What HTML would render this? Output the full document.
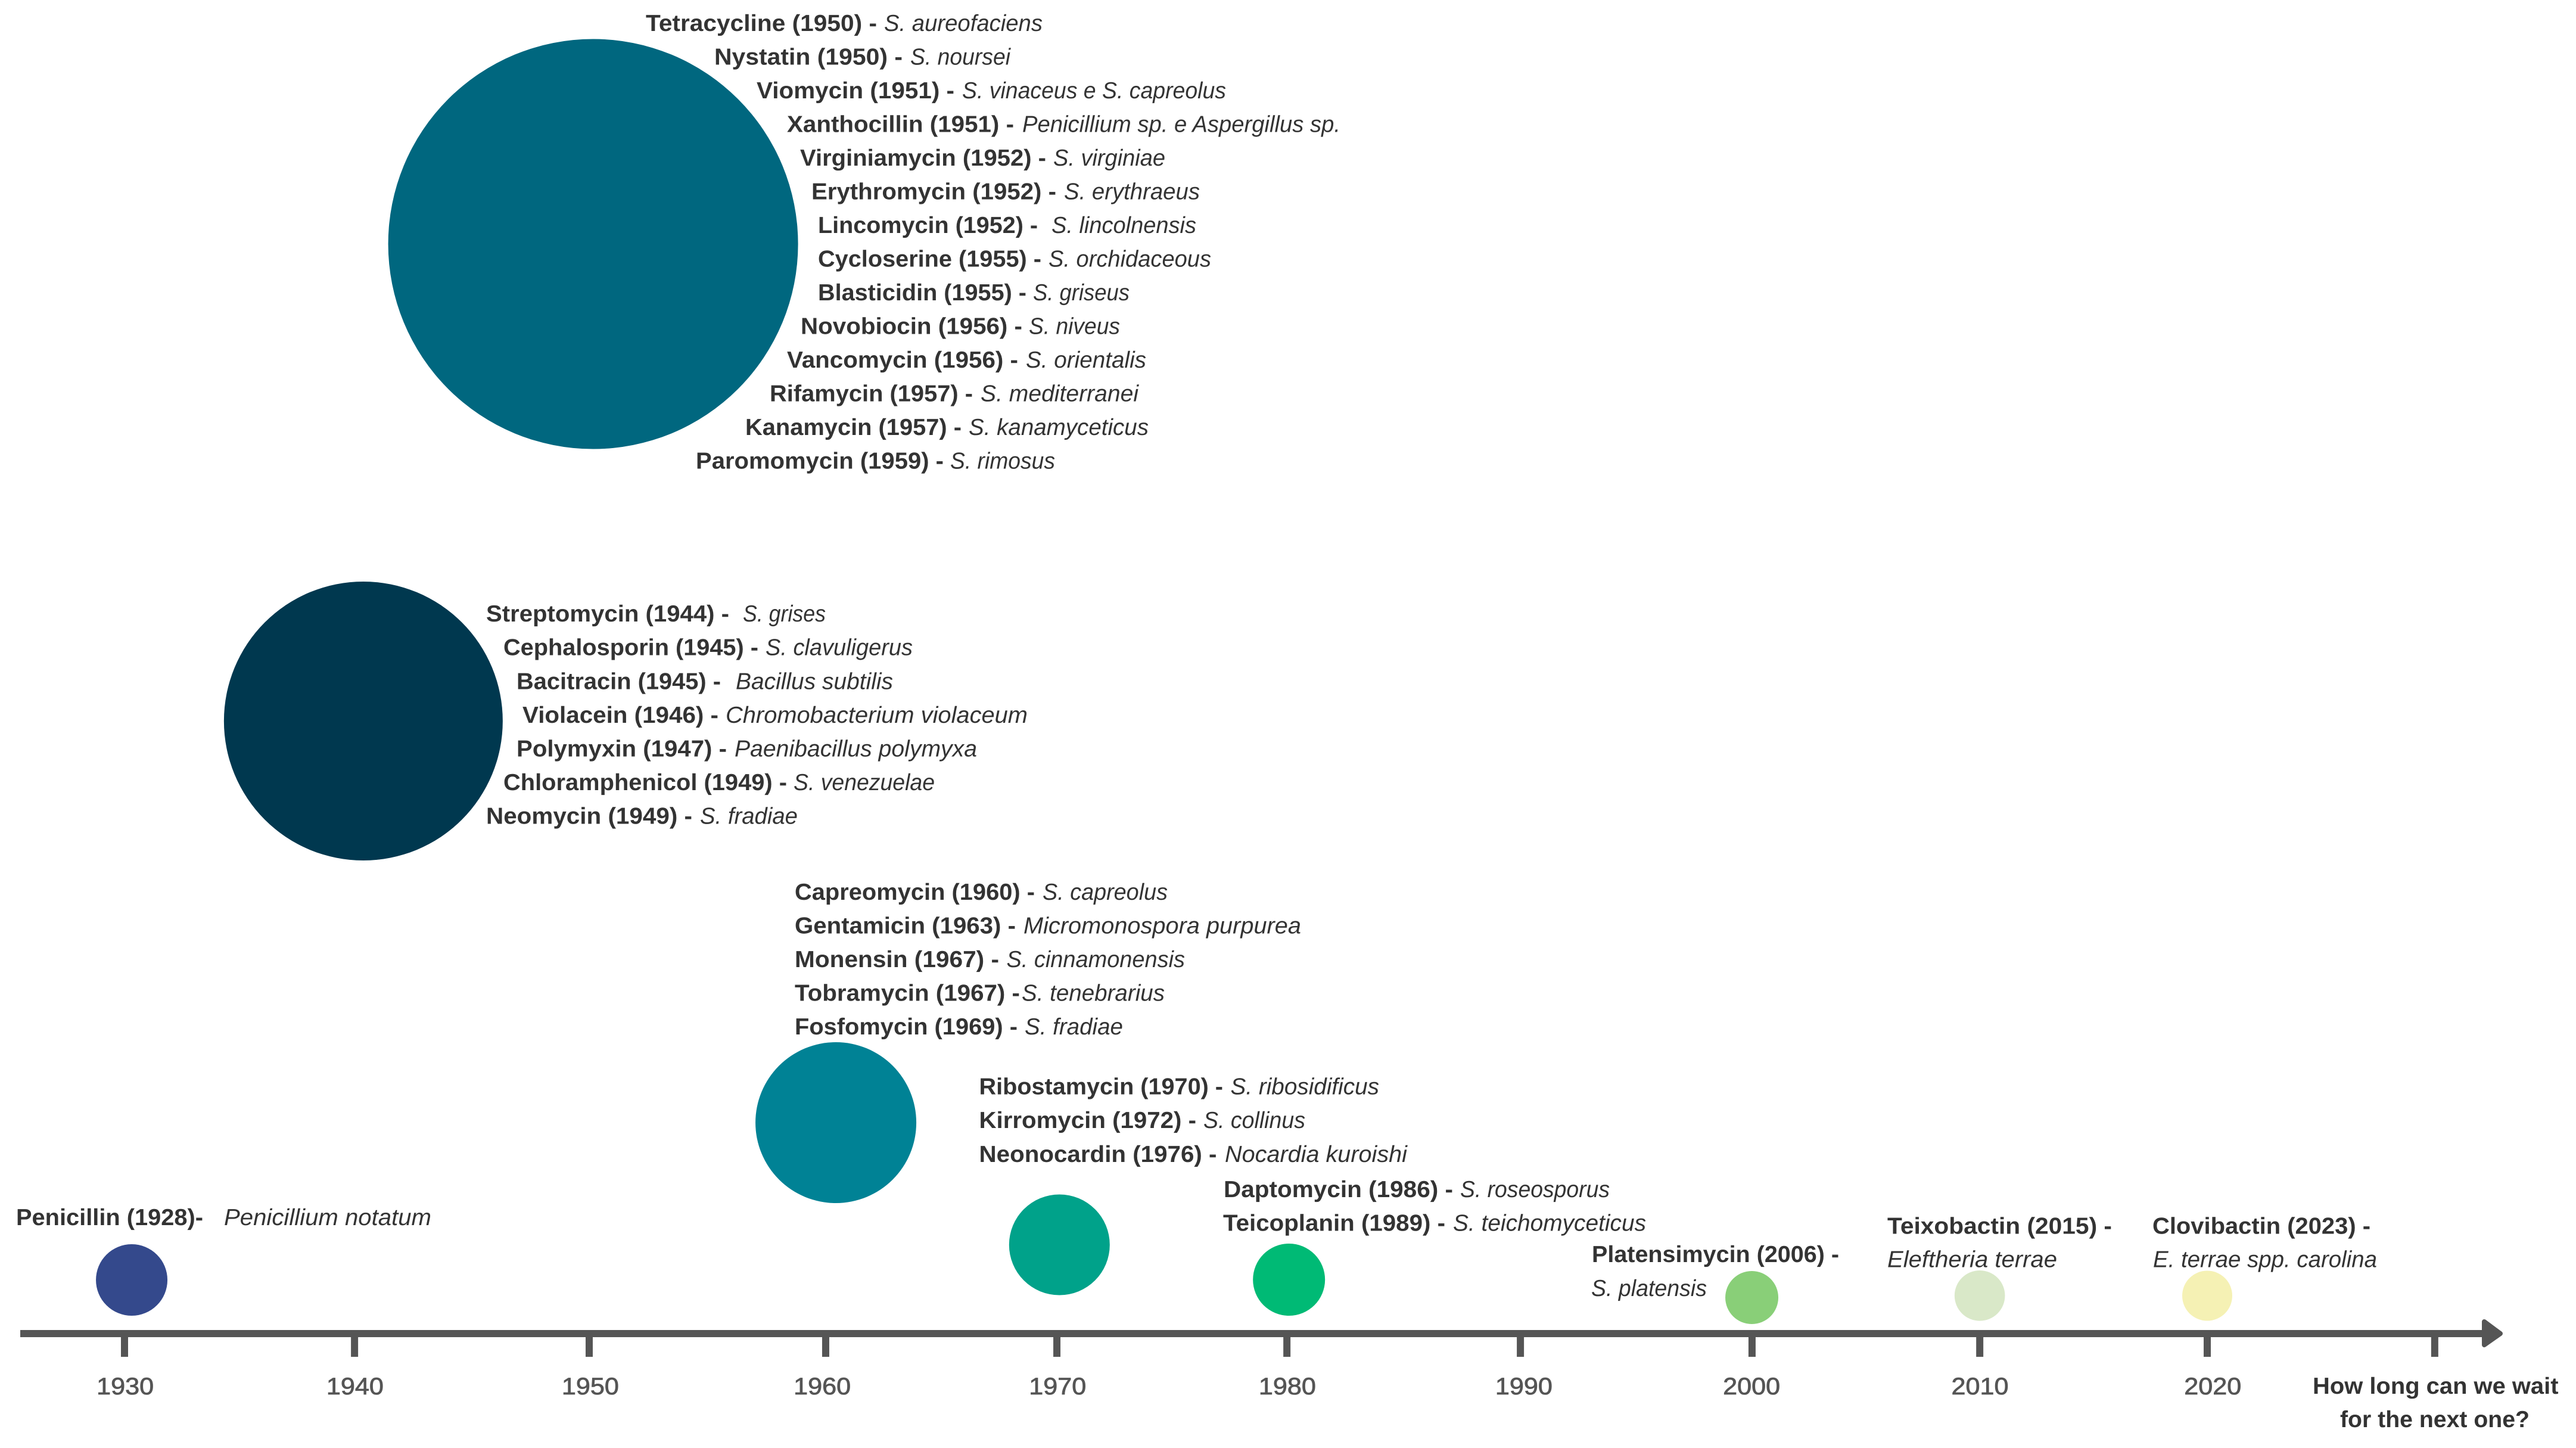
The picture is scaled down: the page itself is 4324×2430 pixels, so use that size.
<!DOCTYPE html>
<html lang="en">
<head>
<meta charset="utf-8">
<title>Antibiotic discovery timeline</title>
<style>
  html, body { margin: 0; padding: 0; background: #ffffff; }
  svg { display: block; }
  text { font-family: "Liberation Sans", sans-serif; font-size: 39px; fill: #333333; text-rendering: geometricPrecision; }
  .b { font-weight: 700; }
  .i { font-style: italic; font-weight: 400; }
  .tick-label { fill: #555555; stroke: #555555; stroke-width: 0.8px; font-size: 40px; text-anchor: middle; }
</style>
</head>
<body>
<svg id="chart" xmlns="http://www.w3.org/2000/svg" width="4324" height="2430" viewBox="0 0 4324 2430">
  <rect x="0" y="0" width="4324" height="2430" fill="#ffffff"/>
  <g id="bubbles"></g>

  <rect x="34" y="2232" width="4136" height="12" fill="#555555"/>
  <polygon points="4170,2218 4197,2238 4170,2257" fill="#555555" stroke="#555555" stroke-width="8" stroke-linejoin="round"/>
  <g id="ticks"></g>
  <g id="tick-labels"></g>

  <g>
    <g><text class="b" x="1084" y="52" textLength="388" lengthAdjust="spacingAndGlyphs">Tetracycline (1950) -</text><text class="i" x="1484" y="52" textLength="266" lengthAdjust="spacingAndGlyphs">S. aureofaciens</text></g>
    <g><text class="b" x="1199" y="108.5" textLength="316" lengthAdjust="spacingAndGlyphs">Nystatin (1950) -</text><text class="i" x="1528" y="108.5" textLength="168" lengthAdjust="spacingAndGlyphs">S. noursei</text></g>
    <g><text class="b" x="1270" y="165" textLength="332" lengthAdjust="spacingAndGlyphs">Viomycin (1951) -</text><text class="i" x="1615" y="165" textLength="443" lengthAdjust="spacingAndGlyphs">S. vinaceus e S. capreolus</text></g>
    <g><text class="b" x="1321" y="221.5" textLength="381" lengthAdjust="spacingAndGlyphs">Xanthocillin (1951) -</text><text class="i" x="1716" y="221.5" textLength="534" lengthAdjust="spacingAndGlyphs">Penicillium sp. e Aspergillus sp.</text></g>
    <g><text class="b" x="1343" y="278" textLength="413" lengthAdjust="spacingAndGlyphs">Virginiamycin (1952) -</text><text class="i" x="1768" y="278" textLength="188" lengthAdjust="spacingAndGlyphs">S. virginiae</text></g>
    <g><text class="b" x="1362" y="334.5" textLength="411" lengthAdjust="spacingAndGlyphs">Erythromycin (1952) -</text><text class="i" x="1786" y="334.5" textLength="228" lengthAdjust="spacingAndGlyphs">S. erythraeus</text></g>
    <g><text class="b" x="1373" y="391" textLength="369" lengthAdjust="spacingAndGlyphs">Lincomycin (1952) -</text><text class="i" x="1765" y="391" textLength="243" lengthAdjust="spacingAndGlyphs">S. lincolnensis</text></g>
    <g><text class="b" x="1373" y="447.5" textLength="375" lengthAdjust="spacingAndGlyphs">Cycloserine (1955) -</text><text class="i" x="1760" y="447.5" textLength="273" lengthAdjust="spacingAndGlyphs">S. orchidaceous</text></g>
    <g><text class="b" x="1373" y="504" textLength="350" lengthAdjust="spacingAndGlyphs">Blasticidin (1955) -</text><text class="i" x="1734" y="504" textLength="162" lengthAdjust="spacingAndGlyphs">S. griseus</text></g>
    <g><text class="b" x="1344" y="560.5" textLength="372" lengthAdjust="spacingAndGlyphs">Novobiocin (1956) -</text><text class="i" x="1727" y="560.5" textLength="153" lengthAdjust="spacingAndGlyphs">S. niveus</text></g>
    <g><text class="b" x="1321" y="617" textLength="388" lengthAdjust="spacingAndGlyphs">Vancomycin (1956) -</text><text class="i" x="1722" y="617" textLength="202" lengthAdjust="spacingAndGlyphs">S. orientalis</text></g>
    <g><text class="b" x="1292" y="673.5" textLength="341" lengthAdjust="spacingAndGlyphs">Rifamycin (1957) -</text><text class="i" x="1646" y="673.5" textLength="265" lengthAdjust="spacingAndGlyphs">S. mediterranei</text></g>
    <g><text class="b" x="1251" y="730" textLength="363" lengthAdjust="spacingAndGlyphs">Kanamycin (1957) -</text><text class="i" x="1626" y="730" textLength="302" lengthAdjust="spacingAndGlyphs">S. kanamyceticus</text></g>
    <g><text class="b" x="1168" y="786.5" textLength="416" lengthAdjust="spacingAndGlyphs">Paromomycin (1959) -</text><text class="i" x="1595" y="786.5" textLength="176" lengthAdjust="spacingAndGlyphs">S. rimosus</text></g>
  </g>

  <g>
    <g><text class="b" x="816" y="1043" textLength="408" lengthAdjust="spacingAndGlyphs">Streptomycin (1944) -</text><text class="i" x="1247" y="1043" textLength="139" lengthAdjust="spacingAndGlyphs">S. grises</text></g>
    <g><text class="b" x="845" y="1099.7" textLength="428" lengthAdjust="spacingAndGlyphs">Cephalosporin (1945) -</text><text class="i" x="1285" y="1099.7" textLength="247" lengthAdjust="spacingAndGlyphs">S. clavuligerus</text></g>
    <g><text class="b" x="867" y="1156.3" textLength="343" lengthAdjust="spacingAndGlyphs">Bacitracin (1945) -</text><text class="i" x="1235" y="1156.3" textLength="264" lengthAdjust="spacingAndGlyphs">Bacillus subtilis</text></g>
    <g><text class="b" x="877" y="1213" textLength="329" lengthAdjust="spacingAndGlyphs">Violacein (1946) -</text><text class="i" x="1218" y="1213" textLength="507" lengthAdjust="spacingAndGlyphs">Chromobacterium violaceum</text></g>
    <g><text class="b" x="867" y="1269.5" textLength="353" lengthAdjust="spacingAndGlyphs">Polymyxin (1947) -</text><text class="i" x="1233" y="1269.5" textLength="407" lengthAdjust="spacingAndGlyphs">Paenibacillus polymyxa</text></g>
    <g><text class="b" x="845" y="1326" textLength="476" lengthAdjust="spacingAndGlyphs">Chloramphenicol (1949) -</text><text class="i" x="1332" y="1326" textLength="237" lengthAdjust="spacingAndGlyphs">S. venezuelae</text></g>
    <g><text class="b" x="816" y="1382.5" textLength="346" lengthAdjust="spacingAndGlyphs">Neomycin (1949) -</text><text class="i" x="1175" y="1382.5" textLength="164" lengthAdjust="spacingAndGlyphs">S. fradiae</text></g>
  </g>

  <g>
    <g><text class="b" x="1334" y="1510" textLength="403" lengthAdjust="spacingAndGlyphs">Capreomycin (1960) -</text><text class="i" x="1750" y="1510" textLength="210" lengthAdjust="spacingAndGlyphs">S. capreolus</text></g>
    <g><text class="b" x="1334" y="1566.5" textLength="371" lengthAdjust="spacingAndGlyphs">Gentamicin (1963) -</text><text class="i" x="1718" y="1566.5" textLength="466" lengthAdjust="spacingAndGlyphs">Micromonospora purpurea</text></g>
    <g><text class="b" x="1334" y="1623" textLength="343" lengthAdjust="spacingAndGlyphs">Monensin (1967) -</text><text class="i" x="1689.5" y="1623" textLength="299.5" lengthAdjust="spacingAndGlyphs">S. cinnamonensis</text></g>
    <g><text class="b" x="1334" y="1679.5" textLength="378" lengthAdjust="spacingAndGlyphs">Tobramycin (1967) -</text><text class="i" x="1715" y="1679.5" textLength="240" lengthAdjust="spacingAndGlyphs">S. tenebrarius</text></g>
    <g><text class="b" x="1334" y="1736" textLength="374" lengthAdjust="spacingAndGlyphs">Fosfomycin (1969) -</text><text class="i" x="1720" y="1736" textLength="165" lengthAdjust="spacingAndGlyphs">S. fradiae</text></g>
  </g>

  <g>
    <g><text class="b" x="1643.5" y="1836.5" textLength="409.5" lengthAdjust="spacingAndGlyphs">Ribostamycin (1970) -</text><text class="i" x="2065.5" y="1836.5" textLength="249.5" lengthAdjust="spacingAndGlyphs">S. ribosidificus</text></g>
    <g><text class="b" x="1643.5" y="1893" textLength="364.5" lengthAdjust="spacingAndGlyphs">Kirromycin (1972) -</text><text class="i" x="2020" y="1893" textLength="171" lengthAdjust="spacingAndGlyphs">S. collinus</text></g>
    <g><text class="b" x="1643.5" y="1950" textLength="399" lengthAdjust="spacingAndGlyphs">Neonocardin (1976) -</text><text class="i" x="2056" y="1950" textLength="306" lengthAdjust="spacingAndGlyphs">Nocardia kuroishi</text></g>
  </g>

  <g>
    <g><text class="b" x="2054" y="2009" textLength="385" lengthAdjust="spacingAndGlyphs">Daptomycin (1986) -</text><text class="i" x="2451" y="2009" textLength="251" lengthAdjust="spacingAndGlyphs">S. roseosporus</text></g>
    <g><text class="b" x="2053" y="2065.5" textLength="373" lengthAdjust="spacingAndGlyphs">Teicoplanin (1989) -</text><text class="i" x="2439" y="2065.5" textLength="324" lengthAdjust="spacingAndGlyphs">S. teichomyceticus</text></g>
  </g>

  <g><text class="b" x="2672" y="2118" textLength="415" lengthAdjust="spacingAndGlyphs">Platensimycin (2006) -</text><text class="i" x="2671" y="2175" textLength="194" lengthAdjust="spacingAndGlyphs">S. platensis</text></g>
  <g><text class="b" x="3168" y="2070.7" textLength="377" lengthAdjust="spacingAndGlyphs">Teixobactin (2015) -</text><text class="i" x="3168" y="2126.5" textLength="285" lengthAdjust="spacingAndGlyphs">Eleftheria terrae</text></g>
  <g><text class="b" x="3613" y="2070.7" textLength="366" lengthAdjust="spacingAndGlyphs">Clovibactin (2023) -</text><text class="i" x="3614" y="2126.5" textLength="376" lengthAdjust="spacingAndGlyphs">E. terrae spp. carolina</text></g>
  <g><text class="b" x="27" y="2056" textLength="314" lengthAdjust="spacingAndGlyphs">Penicillin (1928)-</text><text class="i" x="376" y="2056" textLength="348" lengthAdjust="spacingAndGlyphs">Penicillium notatum</text></g>

  <g><text class="b" x="3882" y="2339" textLength="412.5" lengthAdjust="spacingAndGlyphs">How long can we wait</text><text class="b" x="3928" y="2395" textLength="318" lengthAdjust="spacingAndGlyphs">for the next one?</text></g>
</svg>

<script>
// Chart data. Positions on the time axis are in years.
const decades = ["1930s", "1940s", "1950s", "1960s", "1970s", "1980s", "2000s", "2010s", "2020s"];
const bubbleYears = [1930.31, 1940.32, 1950.25, 1960.74, 1970.40, 1980.32, 2000.32, 2010.17, 2020.00];
const bubbleSizes = [60, 234, 344, 135, 84.5, 60.5, 44.5, 42.3, 42];
const bubbleLift = [90, 1028, 1828.5, 354, 149, 90.5, 60.5, 63.7, 63.5];
const bubbleColors = ["#34498c", "#00384f", "#00677f", "#008295", "#00a28a", "#00ba75", "#89cf78", "#d9e8c8", "#f5f1b4"];
const tickYears = [1930, 1939.94, 1950.08, 1960.3, 1970.29, 1980.23, 1990.32, 2000.33, 2010.17, 2020, 2029.83];
const tickLabels = ["1930", "1940", "1950", "1960", "1970", "1980", "1990", "2000", "2010", "2020"];
const tickLabelYears = [1930.03, 1939.96, 1950.13, 1960.15, 1970.32, 1980.25, 1990.47, 2000.31, 2010.18, 2020.24];

// Axis functions
const SVG_NS = "http://www.w3.org/2000/svg";
const AXIS_Y = 2238;
function xScale(year) { return 209 + (year - 1930) * (3705 - 209) / 90; }
function yScale(lift) { return AXIS_Y - lift; }
function rScale(size) { return size; }

const bubbleGroup = document.getElementById("bubbles");
decades.forEach(function (decade, i) {
  const c = document.createElementNS(SVG_NS, "circle");
  c.setAttribute("cx", xScale(bubbleYears[i]));
  c.setAttribute("cy", yScale(bubbleLift[i]));
  c.setAttribute("r", rScale(bubbleSizes[i]));
  c.setAttribute("fill", bubbleColors[i]);
  
  
  bubbleGroup.appendChild(c);
});

const tickGroup = document.getElementById("ticks");
tickYears.forEach(function (year, i) {
  const t = document.createElementNS(SVG_NS, "rect");
  t.setAttribute("x", xScale(year) - 6);
  t.setAttribute("y", 2244);
  t.setAttribute("width", 12);
  t.setAttribute("height", 33);
  t.setAttribute("fill", "#555555");
  
  
  tickGroup.appendChild(t);
});

const labelGroup = document.getElementById("tick-labels");
tickLabels.forEach(function (label, i) {
  const l = document.createElementNS(SVG_NS, "text");
  l.setAttribute("class", "tick-label");
  l.setAttribute("x", xScale(tickLabelYears[i]));
  l.setAttribute("y", 2340);
  l.setAttribute("textLength", 96);
  l.setAttribute("lengthAdjust", "spacingAndGlyphs");
  
  
  l.textContent = label;
  labelGroup.appendChild(l);
});
</script>
</body>
</html>
